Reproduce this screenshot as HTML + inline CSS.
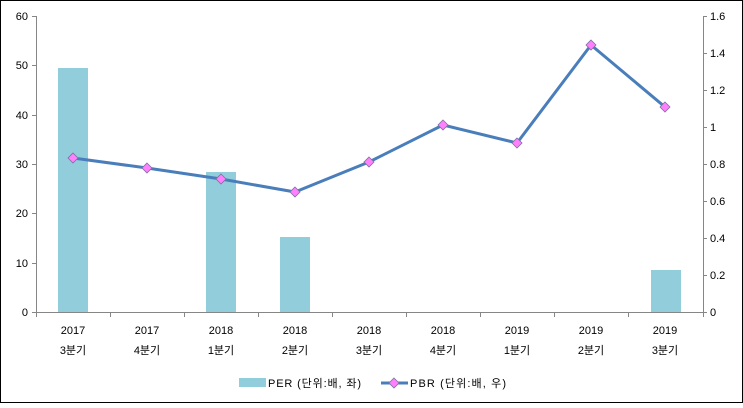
<!DOCTYPE html>
<html><head><meta charset="utf-8"><style>
body{margin:0;background:#fff}
svg text{font-family:"Liberation Sans","Noto Sans CJK KR",sans-serif;font-size:11px;fill:#000}
</style></head><body>
<svg width="743" height="403" viewBox="0 0 743 403" xmlns="http://www.w3.org/2000/svg">
<rect x="0.5" y="0.5" width="742" height="402" fill="#fff" stroke="#000"/>
<g fill="#92cddc">
<rect x="58" y="68" width="30" height="244"/>
<rect x="206" y="172" width="30" height="140"/>
<rect x="280" y="237" width="30" height="75"/>
<rect x="651" y="270" width="30" height="42"/>
</g>
<g stroke="#868686" stroke-width="1" fill="none">
<line x1="36.5" y1="16" x2="36.5" y2="312"/>
<line x1="703.5" y1="16" x2="703.5" y2="312"/>
<line x1="36" y1="312.5" x2="704" y2="312.5"/>
<path d="M32 16.5h4M32 65.5h4M32 115.5h4M32 164.5h4M32 213.5h4M32 263.5h4M32 312.5h4"/>
<path d="M703 16.5h4M703 53.5h4M703 90.5h4M703 127.5h4M703 164.5h4M703 201.5h4M703 238.5h4M703 275.5h4M703 312.5h4"/>
<path d="M36.5 312v5M110.5 312v5M184.5 312v5M258.5 312v5M332.5 312v5M406.5 312v5M480.5 312v5M554.5 312v5M628.5 312v5M703.5 312v5"/>
</g>
<g text-anchor="end">
<text x="28" y="20">60</text><text x="28" y="69">50</text><text x="28" y="119">40</text><text x="28" y="168">30</text><text x="28" y="217">20</text><text x="28" y="267">10</text><text x="28" y="316">0</text>
</g>
<g>
<text x="710" y="20">1.6</text><text x="710" y="57">1.4</text><text x="710" y="94">1.2</text><text x="710" y="131">1</text><text x="710" y="168">0.8</text><text x="710" y="205">0.6</text><text x="710" y="242">0.4</text><text x="710" y="279">0.2</text><text x="710" y="316">0</text>
</g>
<g text-anchor="middle">
<text x="73" y="334">2017</text><text x="73" y="354">3분기</text>
<text x="147" y="334">2017</text><text x="147" y="354">4분기</text>
<text x="221" y="334">2018</text><text x="221" y="354">1분기</text>
<text x="295" y="334">2018</text><text x="295" y="354">2분기</text>
<text x="369" y="334">2018</text><text x="369" y="354">3분기</text>
<text x="443" y="334">2018</text><text x="443" y="354">4분기</text>
<text x="517" y="334">2019</text><text x="517" y="354">1분기</text>
<text x="591" y="334">2019</text><text x="591" y="354">2분기</text>
<text x="665" y="334">2019</text><text x="665" y="354">3분기</text>
</g>
<polyline points="73,158 147,168 221,179 295,192 369,162 443,125 517,143 591,45 665,107" fill="none" stroke="#4a7ebb" stroke-width="3" stroke-linejoin="round"/>
<g fill="#ff80ff" stroke="#7f6f9f" stroke-width="0.8">
<path d="M73 153l5 5-5 5-5-5z"/><path d="M147 163l5 5-5 5-5-5z"/><path d="M221 174l5 5-5 5-5-5z"/><path d="M295 187l5 5-5 5-5-5z"/><path d="M369 157l5 5-5 5-5-5z"/><path d="M443 120l5 5-5 5-5-5z"/><path d="M517 138l5 5-5 5-5-5z"/><path d="M591 40l5 5-5 5-5-5z"/><path d="M665 102l5 5-5 5-5-5z"/>
</g>
<rect x="239" y="378" width="27" height="9" fill="#92cddc"/>
<text x="268" y="387" textLength="93">PER (단위:배, 좌)</text>
<line x1="381" y1="383" x2="408" y2="383" stroke="#4a7ebb" stroke-width="3"/>
<path d="M394 378l5 5-5 5-5-5z" fill="#ff80ff" stroke="#7f6f9f" stroke-width="0.8"/>
<text x="410" y="387" textLength="96">PBR (단위:배, 우)</text>
</svg>
</body></html>
